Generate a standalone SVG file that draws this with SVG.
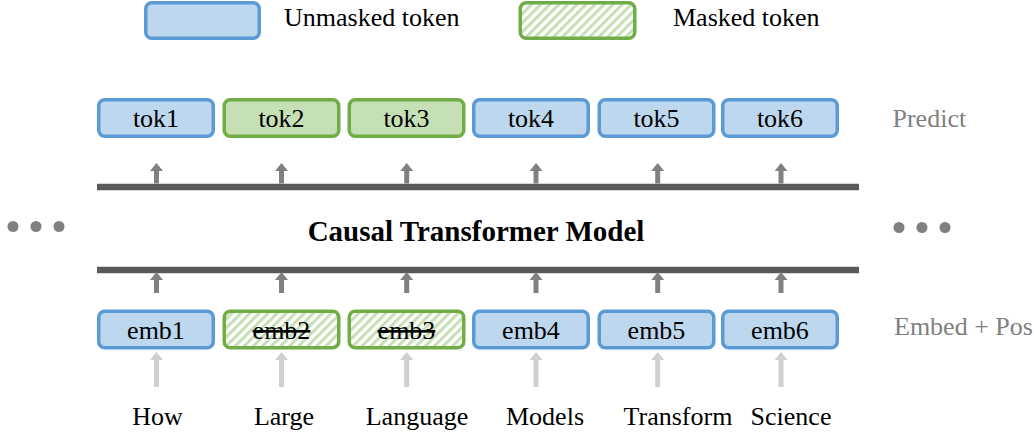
<svg xmlns="http://www.w3.org/2000/svg" width="1034" height="432" viewBox="0 0 1034 432" font-family="'Liberation Serif', 'Times New Roman', Tinos, 'DejaVu Serif', serif">
<defs>
<style>
text{font-family:'Liberation Serif','Times New Roman',Tinos,'DejaVu Serif',serif;font-size:26px;fill:#000}
.box rect{stroke-width:3.5}
.un rect{fill:#bdd7ee;stroke:#5b9bd5}
.mk rect{fill:#c5e0b4;stroke:#70ad47}
.ht rect{fill:url(#hatch);stroke:#70ad47}
.lbl{text-anchor:middle}
.strike{text-decoration:line-through}
.side{fill:#808080}
.title{font-weight:bold;font-size:29px;text-anchor:middle}
.bar{stroke:#595959;stroke-width:6.5}
.up{stroke:#808080;stroke-width:5;marker-end:url(#hd)}
.in{stroke:#d0d0d0;stroke-width:5;marker-end:url(#hl)}
.dot{fill:#808080}
</style>
<pattern id="hatch" patternUnits="userSpaceOnUse" width="6.4" height="6.4" patternTransform="rotate(45)">
<rect width="6.4" height="6.4" fill="#ffffff"/>
<rect width="3" height="6.4" fill="#c5e0b4"/>
</pattern>
<marker id="hd" markerUnits="userSpaceOnUse" viewBox="0 0 8 13" markerWidth="8" markerHeight="13" refX="0" refY="6.5" orient="auto">
<path d="M0,0 L8,6.5 L0,13 Z" fill="#808080"/>
</marker>
<marker id="hl" markerUnits="userSpaceOnUse" viewBox="0 0 8 13" markerWidth="8" markerHeight="13" refX="0" refY="6.5" orient="auto">
<path d="M0,0 L8,6.5 L0,13 Z" fill="#d0d0d0"/>
</marker>
</defs>
<rect width="1034" height="432" fill="#ffffff"/>

<g id="legend">
<g id="legend-unmasked" class="box un"><rect x="145.75" y="2.75" width="113.5" height="35.5" rx="6"/></g>
<text x="284" y="26">Unmasked token</text>
<g id="legend-masked" class="box ht"><rect x="520.25" y="2.75" width="114.5" height="35.5" rx="6"/></g>
<text x="673" y="26">Masked token</text>
</g>

<g id="connectors">
<line class="bar" x1="97" y1="187" x2="859" y2="187"/>
<line class="bar" x1="97" y1="270" x2="859" y2="270"/>
<line class="up" x1="156.5" y1="183.5" x2="156.5" y2="171"/>
<line class="up" x1="281.5" y1="183.5" x2="281.5" y2="171"/>
<line class="up" x1="406.7" y1="183.5" x2="406.7" y2="171"/>
<line class="up" x1="536" y1="183.5" x2="536" y2="171"/>
<line class="up" x1="657.7" y1="183.5" x2="657.7" y2="171"/>
<line class="up" x1="781" y1="183.5" x2="781" y2="171"/>
<line class="up" x1="156.5" y1="293" x2="156.5" y2="280"/>
<line class="up" x1="281.5" y1="293" x2="281.5" y2="280"/>
<line class="up" x1="406.7" y1="293" x2="406.7" y2="280"/>
<line class="up" x1="536" y1="293" x2="536" y2="280"/>
<line class="up" x1="657.7" y1="293" x2="657.7" y2="280"/>
<line class="up" x1="781" y1="293" x2="781" y2="280"/>
<line class="in" x1="156.5" y1="387" x2="156.5" y2="360"/>
<line class="in" x1="281.5" y1="387" x2="281.5" y2="360"/>
<line class="in" x1="406.7" y1="387" x2="406.7" y2="360"/>
<line class="in" x1="536" y1="387" x2="536" y2="360"/>
<line class="in" x1="657.7" y1="387" x2="657.7" y2="360"/>
<line class="in" x1="781" y1="387" x2="781" y2="360"/>
</g>

<g id="tok1" class="box un"><rect x="98.75" y="99.75" width="114.5" height="36.5" rx="6"/><text class="lbl" x="156" y="127">tok1</text></g>
<g id="tok2" class="box mk"><rect x="224.25" y="99.75" width="114.5" height="36.5" rx="6"/><text class="lbl" x="281.5" y="127">tok2</text></g>
<g id="tok3" class="box mk"><rect x="349.25" y="99.75" width="114.5" height="36.5" rx="6"/><text class="lbl" x="406.5" y="127">tok3</text></g>
<g id="tok4" class="box un"><rect x="473.75" y="99.75" width="114.5" height="36.5" rx="6"/><text class="lbl" x="531" y="127">tok4</text></g>
<g id="tok5" class="box un"><rect x="599.25" y="99.75" width="114.5" height="36.5" rx="6"/><text class="lbl" x="656.5" y="127">tok5</text></g>
<g id="tok6" class="box un"><rect x="722.75" y="99.75" width="114.5" height="36.5" rx="6"/><text class="lbl" x="780" y="127">tok6</text></g>

<g id="model"><text class="title" x="476" y="241">Causal Transformer Model</text></g>

<g id="emb1" class="box un"><rect x="98.75" y="311.25" width="114.5" height="36.5" rx="6"/><text class="lbl" x="156" y="339">emb1</text></g>
<g id="emb2" class="box ht"><rect x="224.25" y="311.25" width="114.5" height="36.5" rx="6"/><text class="lbl strike" x="281.5" y="339">emb2</text></g>
<g id="emb3" class="box ht"><rect x="349.25" y="311.25" width="114.5" height="36.5" rx="6"/><text class="lbl strike" x="406.5" y="339">emb3</text></g>
<g id="emb4" class="box un"><rect x="473.75" y="311.25" width="114.5" height="36.5" rx="6"/><text class="lbl" x="531" y="339">emb4</text></g>
<g id="emb5" class="box un"><rect x="599.25" y="311.25" width="114.5" height="36.5" rx="6"/><text class="lbl" x="656.5" y="339">emb5</text></g>
<g id="emb6" class="box un"><rect x="722.75" y="311.25" width="114.5" height="36.5" rx="6"/><text class="lbl" x="780" y="339">emb6</text></g>

<g id="words">
<text class="lbl" x="157.5" y="424.5">How</text>
<text class="lbl" x="284" y="424.5">Large</text>
<text class="lbl" x="417" y="424.5">Language</text>
<text class="lbl" x="545" y="424.5">Models</text>
<text class="lbl" x="678" y="424.5">Transform</text>
<text class="lbl" x="791" y="424.5">Science</text>
</g>

<g id="side-labels">
<text class="side" x="892.5" y="127">Predict</text>
<text class="side" x="894" y="334.5">Embed + Pos</text>
</g>

<g id="ellipsis-left">
<circle class="dot" cx="13" cy="226.5" r="5.5"/>
<circle class="dot" cx="36" cy="226.5" r="5.5"/>
<circle class="dot" cx="59" cy="226.5" r="5.5"/>
</g>
<g id="ellipsis-right">
<circle class="dot" cx="899" cy="227.5" r="5.5"/>
<circle class="dot" cx="922" cy="227.5" r="5.5"/>
<circle class="dot" cx="945" cy="227.5" r="5.5"/>
</g>
</svg>
